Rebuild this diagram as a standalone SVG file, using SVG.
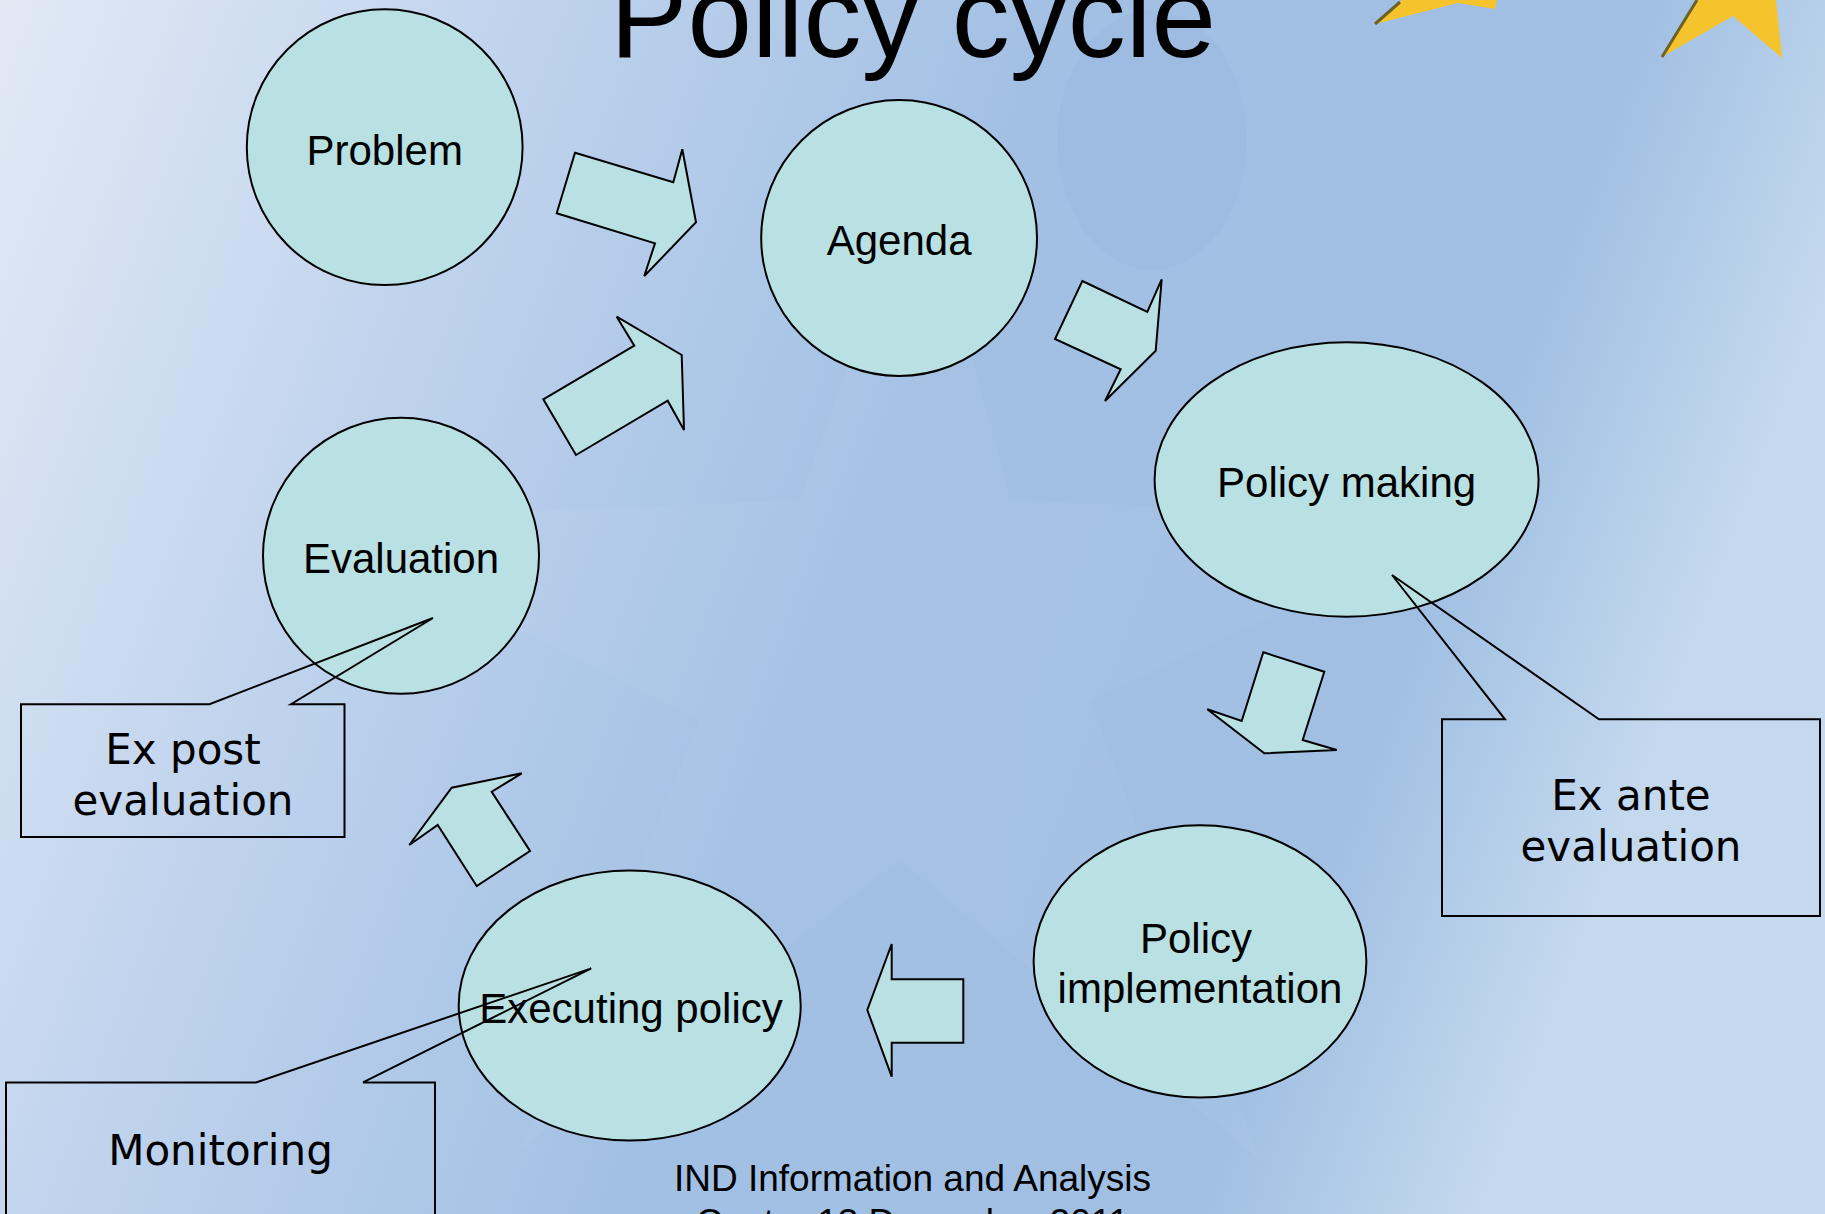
<svg xmlns="http://www.w3.org/2000/svg" width="1825" height="1214" viewBox="0 0 1825 1214">
  <defs>
    <linearGradient id="bg" x1="0" y1="0" x2="1" y2="0.25">
      <stop offset="0" stop-color="#e2e9f5"/>
      <stop offset="0.3" stop-color="#bcd1ec"/>
      <stop offset="0.55" stop-color="#a2c0e4"/>
      <stop offset="0.85" stop-color="#a0bfe3"/>
      <stop offset="1" stop-color="#c4d9ee"/>
    </linearGradient>
    <style>
      .node { fill: #b9e0e2; stroke: #000; stroke-width: 2; }
      .arrow { fill: #b9e0e2; stroke: #000; stroke-width: 2; stroke-linejoin: miter; }
      .callout { fill: none; stroke: #000; stroke-width: 2; }
      .lbl { font-family: "Liberation Sans", Arial, sans-serif; font-size: 42px; fill: #000; text-anchor: middle; }
      .clbl { font-family: "DejaVu Sans", Verdana, sans-serif; font-size: 42px; fill: #000; text-anchor: middle; }
      .title { font-family: "Liberation Sans", Arial, sans-serif; font-size: 116px; fill: #000; text-anchor: middle; }
      .foot { font-family: "Liberation Sans", Arial, sans-serif; font-size: 37px; fill: #000; text-anchor: middle; }
    </style>
  </defs>

  <!-- background -->
  <rect x="0" y="0" width="1825" height="1214" fill="url(#bg)"/>
  <g id="background-decor">
    <ellipse cx="1152" cy="140" rx="95" ry="130" fill="#8eaed8" opacity="0.18"/>
    <polygon points="920,160 1010,500 1480,520 1090,700 1260,1160 900,860 520,1150 700,720 300,520 800,500" fill="#ffffff" opacity="0.04"/>
  </g>
  <g id="stars">
    <polygon points="1375,24 1402,0 1497,0 1495,9 1458,3" fill="#f5c32c"/>
    <line x1="1375" y1="24" x2="1400" y2="2" stroke="#6b6228" stroke-width="3"/>
    <polygon points="1662,57 1697,0 1776,0 1782,58 1733,16" fill="#f5c32c"/>
    <line x1="1662" y1="57" x2="1697" y2="0" stroke="#6b6228" stroke-width="3"/>
  </g>

  <g id="title">
    <text class="title" x="913" y="57">Policy cycle</text>
  </g>

  <!-- connectors: block arrows -->
  <g id="connectors">
    <polygon class="arrow" points="575,152.7 673.3,182.3 682.3,149.3 696,222.3 644.3,276 655,243.3 556.7,213.3"/>
    <polygon class="arrow" points="1082.3,281 1147.3,312 1161.7,279.3 1155.7,350.7 1105,401 1120.7,369.3 1055,339"/>
    <polygon class="arrow" points="1263.3,652.3 1324.3,671.7 1302.7,740 1336.7,750 1264.3,753.3 1207.3,709.3 1241.7,721"/>
    <polygon class="arrow" points="963.3,979.3 963.3,1042.7 891.7,1042.7 891.7,1076.7 867.3,1010 891.7,944 891.7,979.3"/>
    <polygon class="arrow" points="476.7,886 437.7,825 409.3,845 451.7,787.7 521.7,773.3 491.7,791.7 530,851"/>
    <polygon class="arrow" points="543.3,399.3 634.3,345.7 616.7,316.7 681.7,355 684,430 667.7,400.7 576,455"/>
  </g>

  <!-- nodes -->
  <g id="node-problem">
    <circle class="node" cx="384.7" cy="147.2" r="137.9"/>
    <text class="lbl" x="384.7" y="165">Problem</text>
  </g>
  <g id="node-agenda">
    <circle class="node" cx="899.1" cy="238" r="137.9"/>
    <text class="lbl" x="899.1" y="255">Agenda</text>
  </g>
  <g id="node-policy-making">
    <ellipse class="node" cx="1346.6" cy="479.5" rx="192" ry="137.3"/>
    <text class="lbl" x="1346.6" y="497">Policy making</text>
  </g>
  <g id="node-policy-implementation">
    <ellipse class="node" cx="1200" cy="961.4" rx="166.4" ry="136.2"/>
    <text class="lbl" x="1196" y="953">Policy</text>
    <text class="lbl" x="1200" y="1003">implementation</text>
  </g>
  <g id="node-executing-policy">
    <ellipse class="node" cx="629.7" cy="1005.6" rx="171" ry="135"/>
    <text class="lbl" x="631" y="1023">Executing policy</text>
  </g>
  <g id="node-evaluation">
    <circle class="node" cx="401" cy="555.8" r="138"/>
    <text class="lbl" x="401" y="573">Evaluation</text>
  </g>

  <!-- callouts -->
  <g id="callout-ex-post">
    <path class="callout" d="M21,704.2 L209.5,704.2 L433,618 L291,704.2 L344.5,704.2 L344.5,837 L21,837 Z"/>
    <text class="clbl" x="183" y="763.5">Ex post</text>
    <text class="clbl" x="183" y="815">evaluation</text>
  </g>
  <g id="callout-ex-ante">
    <path class="callout" d="M1442,719.3 L1505,719.3 L1392,575 L1599,719.3 L1820,719.3 L1820,916 L1442,916 Z"/>
    <text class="clbl" x="1631" y="810">Ex ante</text>
    <text class="clbl" x="1631" y="861">evaluation</text>
  </g>
  <g id="callout-monitoring">
    <path class="callout" d="M6,1082.4 L256,1082.4 L591.3,968.4 L363,1082.4 L435,1082.4 L435,1240 L6,1240 Z"/>
    <text class="clbl" x="220.5" y="1165">Monitoring</text>
  </g>

  <g id="footer">
    <text class="foot" x="912.5" y="1191">IND Information and Analysis</text>
    <text class="foot" x="912.5" y="1235">Centre 13 December 2011</text>
  </g>
</svg>
